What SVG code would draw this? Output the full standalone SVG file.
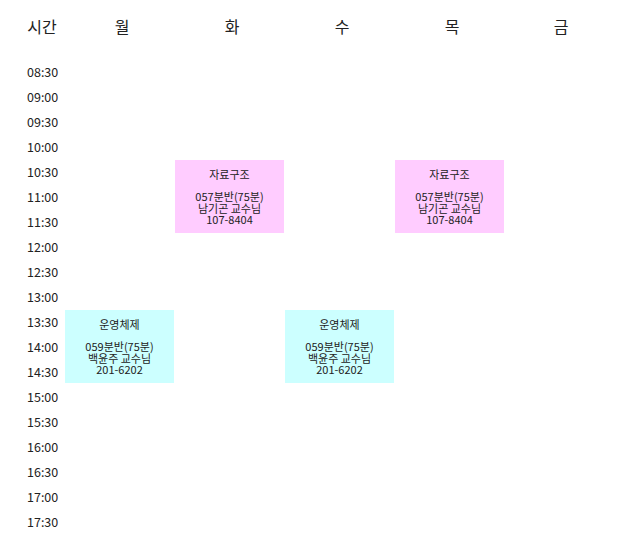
<svg xmlns="http://www.w3.org/2000/svg" width="620" height="550" viewBox="0 0 620 550">
<style>
text{font-family:"Noto Sans CJK KR","Noto Sans",sans-serif;fill:#222}
.h{font-size:16px;text-anchor:middle}
.t{font-size:12.5px}
.b{font-size:11px;text-anchor:middle}
.pink{fill:#ffccff}
.cyan{fill:#ccffff}
</style>
<rect width="620" height="550" fill="#fff"/>
<g id="header">
<text class="h" x="42" y="33">시간</text>
<text class="h" x="122" y="33">월</text>
<text class="h" x="232" y="33">화</text>
<text class="h" x="342" y="33">수</text>
<text class="h" x="452" y="33">목</text>
<text class="h" x="561" y="33">금</text>
</g>
<g id="times">
<text class="t" x="27" y="77">08:30</text>
<text class="t" x="27" y="102">09:00</text>
<text class="t" x="27" y="127">09:30</text>
<text class="t" x="27" y="152">10:00</text>
<text class="t" x="27" y="177">10:30</text>
<text class="t" x="27" y="202">11:00</text>
<text class="t" x="27" y="227">11:30</text>
<text class="t" x="27" y="252">12:00</text>
<text class="t" x="27" y="277">12:30</text>
<text class="t" x="27" y="302">13:00</text>
<text class="t" x="27" y="327">13:30</text>
<text class="t" x="27" y="352">14:00</text>
<text class="t" x="27" y="377">14:30</text>
<text class="t" x="27" y="402">15:00</text>
<text class="t" x="27" y="427">15:30</text>
<text class="t" x="27" y="452">16:00</text>
<text class="t" x="27" y="477">16:30</text>
<text class="t" x="27" y="502">17:00</text>
<text class="t" x="27" y="527">17:30</text>
</g>
<g id="tue-ds">
<rect class="pink" x="175" y="160" width="109" height="73"/>
<text class="b" x="229.5" y="179">자료구조</text>
<text class="b" x="229.5" y="201">057분반(75분)</text>
<text class="b" x="229.5" y="212.5">남기곤 교수님</text>
<text class="b" x="229.5" y="224">107-8404</text>
</g>
<g id="thu-ds">
<rect class="pink" x="395" y="160" width="109" height="73"/>
<text class="b" x="449.5" y="179">자료구조</text>
<text class="b" x="449.5" y="201">057분반(75분)</text>
<text class="b" x="449.5" y="212.5">남기곤 교수님</text>
<text class="b" x="449.5" y="224">107-8404</text>
</g>
<g id="mon-os">
<rect class="cyan" x="65" y="310" width="109" height="73"/>
<text class="b" x="119.5" y="329">운영체제</text>
<text class="b" x="119.5" y="351">059분반(75분)</text>
<text class="b" x="119.5" y="362.5">백윤주 교수님</text>
<text class="b" x="119.5" y="374">201-6202</text>
</g>
<g id="wed-os">
<rect class="cyan" x="285" y="310" width="109" height="73"/>
<text class="b" x="339.5" y="329">운영체제</text>
<text class="b" x="339.5" y="351">059분반(75분)</text>
<text class="b" x="339.5" y="362.5">백윤주 교수님</text>
<text class="b" x="339.5" y="374">201-6202</text>
</g>
<g id="connectors"></g>
</svg>
